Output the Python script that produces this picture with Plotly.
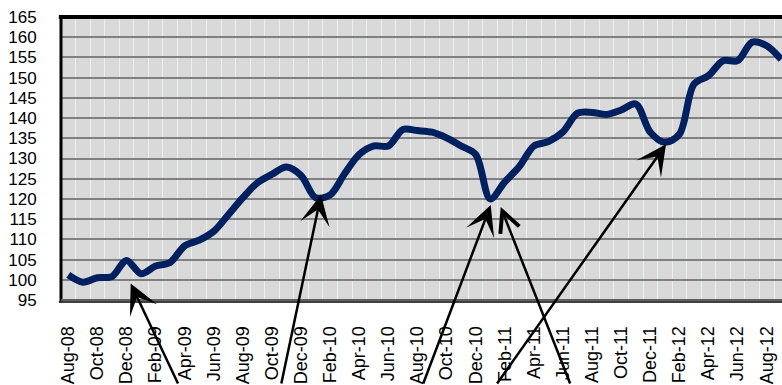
import plotly.graph_objects as go

months = ["Aug-08", "Sep-08", "Oct-08", "Nov-08", "Dec-08", "Jan-09", "Feb-09", "Mar-09",
          "Apr-09", "May-09", "Jun-09", "Jul-09", "Aug-09", "Sep-09", "Oct-09", "Nov-09",
          "Dec-09", "Jan-10", "Feb-10", "Mar-10", "Apr-10", "May-10", "Jun-10", "Jul-10",
          "Aug-10", "Sep-10", "Oct-10", "Nov-10", "Dec-10", "Jan-11", "Feb-11", "Mar-11",
          "Apr-11", "May-11", "Jun-11", "Jul-11", "Aug-11", "Sep-11", "Oct-11", "Nov-11",
          "Dec-11", "Jan-12", "Feb-12", "Mar-12", "Apr-12", "May-12", "Jun-12", "Jul-12",
          "Aug-12", "Sep-12"]

values = [101.2, 99.4, 100.5, 100.8, 104.8, 101.5, 103.4, 104.3,
          108.4, 109.8, 112.0, 116.1, 120.3, 124.0, 126.1, 127.9,
          125.8, 120.3, 121.0, 126.3, 131.0, 133.1, 133.1, 137.2,
          136.9, 136.5, 135.1, 133.1, 131.0, 120.0, 124.2, 128.0,
          133.1, 134.2, 136.6, 141.2, 141.4, 140.9, 142.0, 143.5,
          136.5, 134.0, 136.0, 148.4, 150.5, 154.2, 154.2, 158.8,
          157.9, 154.5]

tick_labels = months[::2]
y_ticks = list(range(95, 170, 5))

# arrow heads (index position, value) and tail offsets (px)
arrow_x = [4.29, 17.37, 29.03, 29.72, 41.08]
arrow_y = [99.1, 121.0, 118.5, 118.0, 133.5]
arrow_ax = [48, -40, -68, 70, -170]
arrow_ay = [130, 200, 200, 200, 260]
arrow_heads = [3, 3, 3, 5, 3]
arrow_sizes = [2.0, 2.0, 2.0, 1.6, 2.0]

x_idx = list(range(len(months)))

fig = go.Figure()
fig.add_trace(go.Scatter(
    x=x_idx, y=values, mode="lines",
    line=dict(color="#002060", width=7, shape="spline", smoothing=0.9),
    hoverinfo="skip", showlegend=False,
))

for hx, hy, tx, ty, hd, hs in zip(arrow_x, arrow_y, arrow_ax, arrow_ay, arrow_heads, arrow_sizes):
    fig.add_annotation(
        x=hx, y=hy, xref="x", yref="y", ax=tx, ay=ty, text="",
        showarrow=True, arrowhead=hd, arrowsize=hs, arrowwidth=2.5,
        arrowcolor="black", standoff=0,
    )

font = dict(family="Liberation Sans, Arial, sans-serif", size=17, color="black")
xfont = dict(family="Liberation Sans, Arial, sans-serif", size=18, color="black")

fig.update_layout(
    width=782, height=385,
    margin=dict(l=61, r=0, t=17, b=85),
    paper_bgcolor="white",
    plot_bgcolor="#d9d9d9",
    font=font,
    xaxis=dict(
        range=[-0.5, 49.05],
        tickmode="array", tickvals=x_idx[::2], ticktext=tick_labels,
        tickangle=-90, tickfont=xfont,
        ticks="outside", ticklen=18, tickcolor="rgba(0,0,0,0)",
        showgrid=False, zeroline=False, showline=False,
        minor=dict(tickmode="linear", tick0=-0.5, dtick=1, showgrid=True,
                   gridcolor="#e8f0f0", gridwidth=1, ticks=""),
    ),
    yaxis=dict(
        range=[95, 165],
        tickmode="array", tickvals=y_ticks, ticktext=[str(v) for v in y_ticks],
        tickfont=font,
        ticks="outside", ticklen=20, tickcolor="rgba(0,0,0,0)",
        showgrid=True, gridcolor="#808080", gridwidth=2,
        zeroline=False, showline=False,
    ),
)

# plot-area frame (left, top, bottom)
fig.add_shape(type="line", xref="paper", yref="paper", x0=0, x1=0, y0=-0.005, y1=1.005,
              line=dict(color="black", width=3))
fig.add_shape(type="line", xref="paper", yref="paper", x0=-0.003, x1=1, y0=1, y1=1,
              line=dict(color="black", width=4))
fig.add_shape(type="line", xref="paper", yref="paper", x0=0, x1=1, y0=0, y1=0,
              line=dict(color="#606060", width=2))
fig.add_shape(type="line", xref="paper", yref="paper", x0=-0.003, x1=1, y0=-0.007, y1=-0.007,
              line=dict(color="black", width=1.5))

fig.write_html("out.html")
